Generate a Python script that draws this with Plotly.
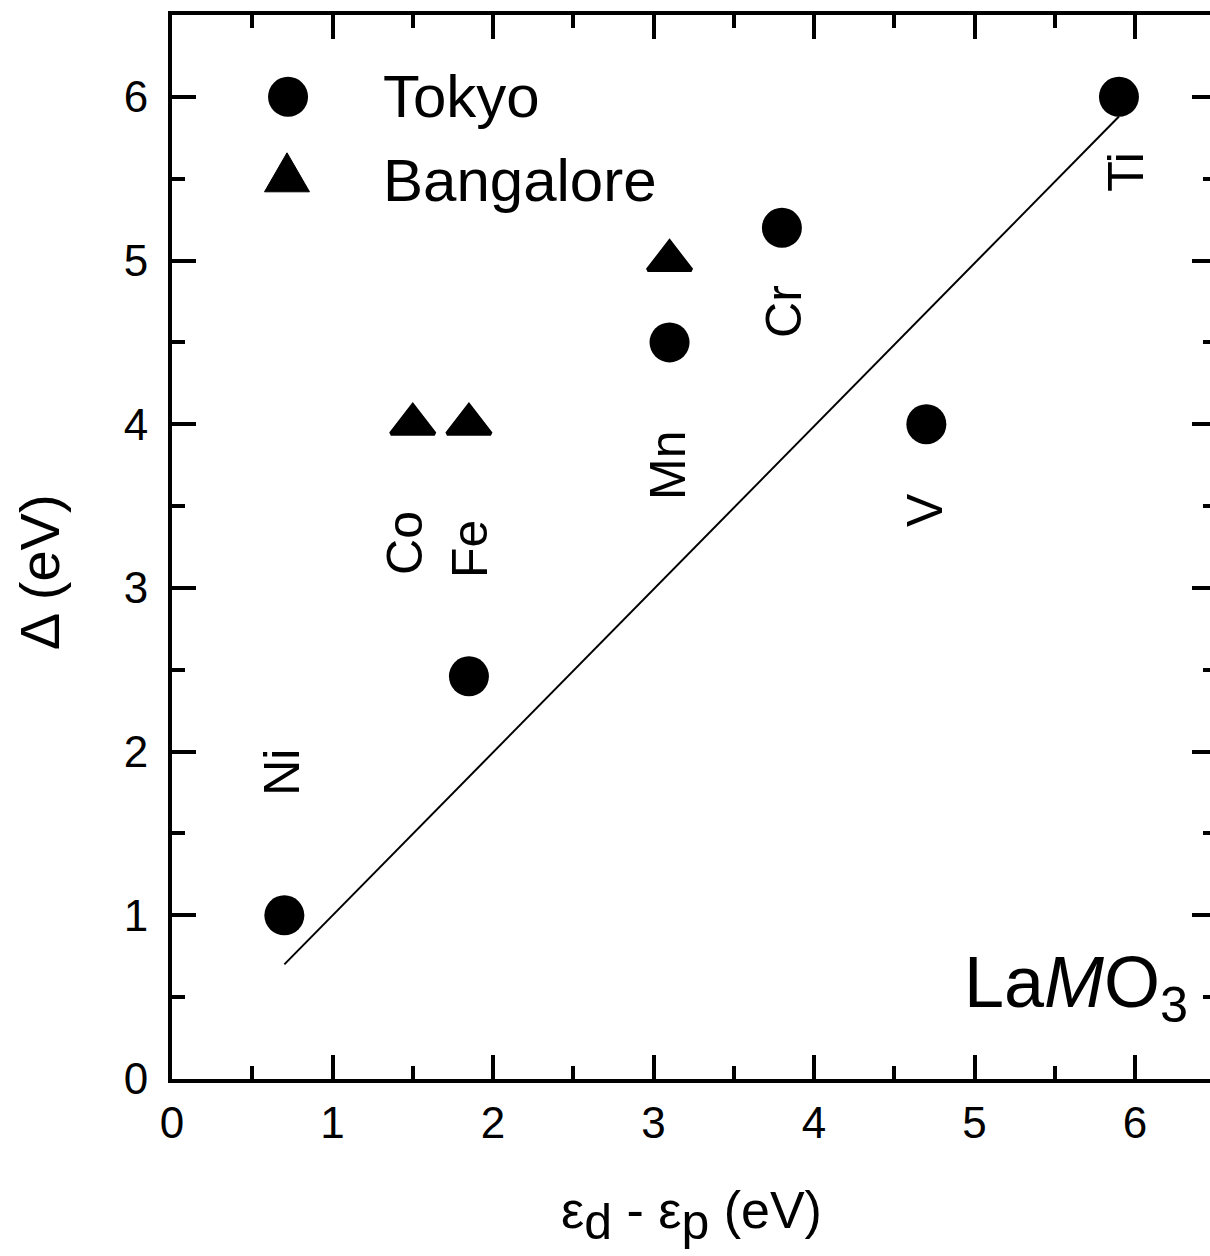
import plotly.graph_objects as go

# ---------------- data ----------------
tokyo_x = [0.70, 1.85, 3.10, 3.80, 4.70, 5.90]
tokyo_y = [1.00, 2.46, 4.50, 5.20, 4.00, 6.00]

bang_x = [1.50, 1.85, 3.10]
bang_y = [4.00, 4.00, 5.00]

fit_x = [0.70, 5.90]
fit_y = [0.70, 5.88]

element_names = ["Ni", "Co", "Fe", "Mn", "Cr", "V", "Ti"]
element_label_x = [0.685, 1.452, 1.857, 3.09, 3.813, 4.692, 5.944]
element_label_y = [1.876, 3.275, 3.238, 3.751, 4.692, 3.476, 5.542]

x_ticks = [0, 1, 2, 3, 4, 5, 6]
y_ticks = [0, 1, 2, 3, 4, 5, 6]

FONT = "Liberation Sans, Arial, Helvetica, sans-serif"
BLACK = "black"

fig = go.Figure()

fig.add_trace(go.Scatter(
    x=tokyo_x, y=tokyo_y, mode="markers", name="Tokyo",
    marker=dict(symbol="circle", size=40, color=BLACK, line=dict(width=0)),
    showlegend=False, cliponaxis=False))

fig.add_trace(go.Scatter(
    x=bang_x, y=bang_y, mode="markers", name="Bangalore",
    marker=dict(symbol="triangle-up", size=38, color=BLACK,
                line=dict(width=4, color=BLACK)),
    showlegend=False, cliponaxis=False))

fig.add_trace(go.Scatter(
    x=fit_x, y=fit_y, mode="lines", yaxis="y2",
    line=dict(color=BLACK, width=2), showlegend=False, hoverinfo="skip"))

# ---------------- element labels ----------------
annotations = []
for name, lx, ly in zip(element_names, element_label_x, element_label_y):
    annotations.append(dict(
        x=lx, y=ly, xref="x", yref="y", text=name, showarrow=False,
        textangle=-90, xanchor="center", yanchor="middle",
        font=dict(family=FONT, size=50, color=BLACK)))

# LaMO3 label
annotations.append(dict(
    x=6.343, y=0.56, xref="x", yref="y",
    text="La<i>M</i>O<sub>3</sub>", showarrow=False,
    xanchor="right", yanchor="middle",
    font=dict(family=FONT, size=72, color=BLACK)))

# legend texts
annotations.append(dict(
    x=1.30, y=6.0, xref="x", yref="y", text="Tokyo", showarrow=False,
    xanchor="left", yanchor="middle",
    font=dict(family=FONT, size=60, color=BLACK)))
annotations.append(dict(
    x=1.30, y=5.487, xref="x", yref="y", text="Bangalore", showarrow=False,
    xanchor="left", yanchor="middle",
    font=dict(family=FONT, size=60, color=BLACK)))

# axis titles
annotations.append(dict(
    x=0.5, y=-0.128, xref="paper", yref="paper",
    text="ε<sub><span style='font-size:50px'>d</span></sub> - ε<sub><span style='font-size:50px'>p</span></sub> (eV)",
    showarrow=False, xanchor="center", yanchor="middle",
    font=dict(family=FONT, size=52, color=BLACK)))
annotations.append(dict(
    x=-0.128, y=0.4765, xref="paper", yref="paper", text="Δ (eV)",
    showarrow=False, textangle=-90, xanchor="center", yanchor="middle",
    font=dict(family=FONT, size=56, color=BLACK)))

# ---------------- legend symbols (shapes in pixel size) ----------------
shapes = [
    dict(type="circle", xref="x", yref="y", xsizemode="pixel", ysizemode="pixel",
         xanchor=0.723, yanchor=6.0, x0=-20, x1=20, y0=-20, y1=20,
         fillcolor=BLACK, line=dict(width=0)),
    dict(type="path", xref="x", yref="y", xsizemode="pixel", ysizemode="pixel",
         xanchor=0.7165, yanchor=5.539,
         path="M -22.5,-19.5 L 22.5,-19.5 L 0,19.5 Z",
         fillcolor=BLACK, line=dict(width=1, color=BLACK)),
]

axis_common = dict(showgrid=False, zeroline=False, ticks="inside",
                   ticklen=24, tickwidth=4, tickcolor=BLACK,
                   linecolor=BLACK, linewidth=4,
                   tickfont=dict(family=FONT, size=44, color=BLACK))

fig.update_layout(
    width=1210, height=1256,
    margin=dict(l=172, r=0, t=15, b=177, autoexpand=False),
    paper_bgcolor="white", plot_bgcolor="white",
    font=dict(family=FONT, color=BLACK),
    showlegend=False,
    xaxis=dict(range=[0, 1038 / 160.5], tickvals=x_ticks,
               ticktext=[str(v) for v in x_ticks],
               showline=True, mirror="ticks",
               minor=dict(dtick=0.5, tick0=0, ticks="inside", ticklen=13,
                          tickwidth=4, tickcolor=BLACK),
               ticklabelstandoff=2, **axis_common),
    yaxis=dict(range=[0, 6.5], tickvals=y_ticks,
               ticktext=[str(v) for v in y_ticks],
               showline=True, mirror=False,
               minor=dict(dtick=0.5, tick0=0, ticks="inside", ticklen=13,
                          tickwidth=4, tickcolor=BLACK),
               ticklabelstandoff=11, **axis_common),
    yaxis2=dict(range=[0, 6.5], overlaying="y", side="right", anchor="x",
                showgrid=False, zeroline=False, showline=False,
                showticklabels=False, ticks="inside", tickvals=y_ticks,
                ticklen=18, tickwidth=4, tickcolor=BLACK,
                minor=dict(dtick=0.5, tick0=0, ticks="inside", ticklen=7,
                           tickwidth=4, tickcolor=BLACK)),
    annotations=annotations,
    shapes=shapes,
)

fig.write_html("out.html",
               config={"displayModeBar": False},
               post_script="document.body.style.margin='0';document.body.style.overflow='hidden';")
